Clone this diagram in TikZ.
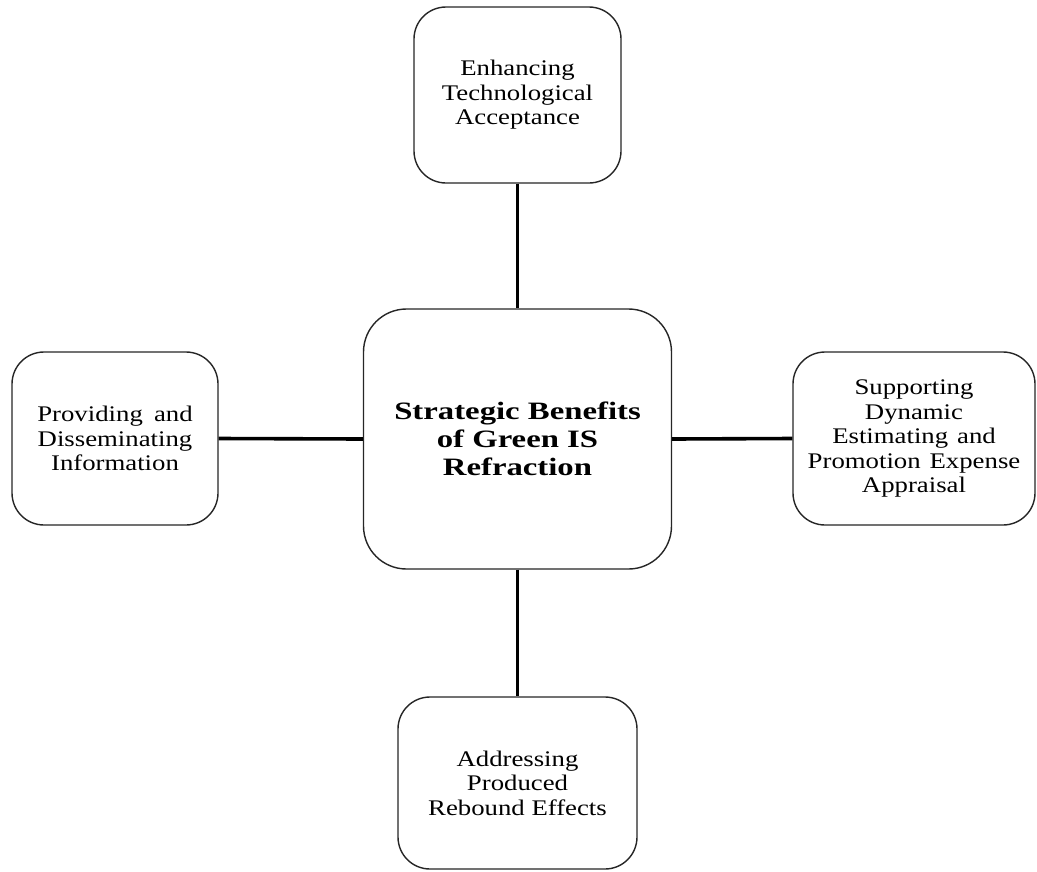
\documentclass[tikz,border=0pt]{standalone}
\usepackage{fontspec}
\setmainfont{Liberation Serif}[FakeStretch=1.2]
\newfontfamily\ctrfont{Liberation Serif}[FakeStretch=1.31]
\begin{document}
\begin{tikzpicture}[x=1pt,y=-1pt,
  boxnode/.style={draw=black!85, line width=1.4pt, rounded corners=32pt, fill=white,
    align=center, inner sep=0pt, font=\fontsize{22.3}{24.5}\selectfont},
  link/.style={line width=3.6pt, black}]
\useasboundingbox (0,0) rectangle (1037,871);
\node[boxnode, minimum width=308pt, minimum height=260pt, rounded corners=43pt,
  font=\ctrfont\bfseries\fontsize{25}{28.3}\selectfont] (ctr) at (517.5,439)
  {Strategic Benefits\\of Green IS\\Refraction};
\node[boxnode, minimum width=207pt, minimum height=176pt] (top) at (517.5,95)
  {Enhancing\\Technological\\Acceptance};
\node[boxnode, minimum width=206pt, minimum height=173pt] (lft) at (115,438.5)
  {Providing\hspace{0.5em}and\\Disseminating\\Information};
\node[boxnode, minimum width=242pt, minimum height=173pt] (rgt) at (914,438.5)
  {Supporting\\Dynamic\\Estimating\hspace{0.4em}and\\Promotion\hspace{0.4em}Expense\\Appraisal};
\node[boxnode, minimum width=239pt, minimum height=172pt] (bot) at (517.5,783)
  {Addressing\\Produced\\Rebound Effects};
\draw[link] (top.south) -- (ctr.north);
\draw[link] (ctr.south) -- (bot.north);
\draw[link] (lft.east) -- (ctr.west);
\draw[link] (ctr.east) -- (rgt.west);
\end{tikzpicture}
\end{document}
